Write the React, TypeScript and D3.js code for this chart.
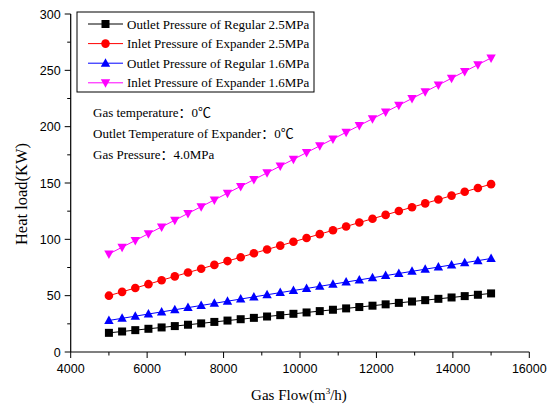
import React from 'react';
import * as d3 from 'd3';

// Gas flow (m3/h) at each measured point
const FLOW = [
  5000, 5345, 5690, 6034, 6379, 6724, 7069, 7414, 7759, 8103,
  8448, 8793, 9138, 9483, 9828, 10172, 10517, 10862, 11207, 11552,
  11897, 12241, 12586, 12931, 13276, 13621, 13966, 14310, 14655, 15000,
];

// Heat load (KW) per series
const OUTLET_REG_25 = [
  17, 18.2, 19.4, 20.6, 21.8, 23.0, 24.2, 25.4, 26.7, 27.9,
  29.1, 30.3, 31.5, 32.7, 33.9, 35.1, 36.3, 37.5, 38.7, 39.9,
  41.1, 42.3, 43.6, 44.8, 46.0, 47.2, 48.4, 49.6, 50.8, 52,
];
const INLET_EXP_25 = [
  50, 53.4, 56.8, 60.2, 63.7, 67.1, 70.5, 73.9, 77.3, 80.7,
  84.1, 87.6, 91.0, 94.4, 97.8, 101.2, 104.6, 108.0, 111.4, 114.9,
  118.3, 121.7, 125.1, 128.5, 131.9, 135.3, 138.8, 142.2, 145.6, 149,
];
const OUTLET_REG_16 = [
  28, 29.9, 31.8, 33.7, 35.6, 37.5, 39.4, 41.3, 43.2, 45.1,
  47.0, 48.9, 50.8, 52.7, 54.6, 56.4, 58.3, 60.2, 62.1, 64.0,
  65.9, 67.8, 69.7, 71.6, 73.5, 75.4, 77.3, 79.2, 81.1, 83,
];
const INLET_EXP_16 = [
  87, 93, 99, 105, 111, 117, 123, 129, 135, 141,
  147, 153, 159, 165, 171, 177, 183, 189, 195, 201,
  207, 213, 219, 225, 231, 237, 243, 249, 255, 261,
];

const SERIES_NAMES = [
  'Outlet Pressure of Regular 2.5MPa',
  'Inlet Pressure of Expander 2.5MPa',
  'Outlet Pressure of Regular 1.6MPa',
  'Inlet Pressure of Expander 1.6MPa',
];
const SERIES_VALUES = [OUTLET_REG_25, INLET_EXP_25, OUTLET_REG_16, INLET_EXP_16];
const SERIES_COLORS = ['#000000', '#ff0000', '#0000ff', '#ff00ff'];
const SERIES_SHAPES = ['square', 'circle', 'up', 'down'];

const X_TICKS = [4000, 6000, 8000, 10000, 12000, 14000, 16000];
const X_MINOR = [5000, 7000, 9000, 11000, 13000, 15000];
const Y_TICKS = [0, 50, 100, 150, 200, 250, 300];
const Y_MINOR = [25, 75, 125, 175, 225, 275];

const NOTES = [
  'Gas temperature：0℃',
  'Outlet Temperature of Expander：0℃',
  'Gas Pressure：4.0MPa',
];

const W = 553;
const H = 405;
const serif = '"Liberation Serif", "Times New Roman", "Noto Sans CJK SC", serif';
const sans = '"Liberation Sans", Arial, sans-serif';

const x = d3.scaleLinear().domain([4000, 16000]).range([70.7, 529.3]);
const y = d3.scaleLinear().domain([0, 300]).range([352, 14]);

function Marker({ shape, cx, cy, color }: { shape: string; cx: number; cy: number; color: string }) {
  if (shape === 'square') {
    return <rect x={cx - 4} y={cy - 4} width={8} height={8} fill={color} />;
  }
  if (shape === 'circle') {
    return <circle cx={cx} cy={cy} r={4.3} fill={color} />;
  }
  if (shape === 'up') {
    return <path d={`M${cx},${cy - 5}L${cx + 4.7},${cy + 3.5}L${cx - 4.7},${cy + 3.5}Z`} fill={color} />;
  }
  return <path d={`M${cx},${cy + 5}L${cx + 4.7},${cy - 3.5}L${cx - 4.7},${cy - 3.5}Z`} fill={color} />;
}

export default function App() {
  const line = d3.line<number>()
    .x((_, i) => x(FLOW[i]))
    .y(d => y(d));

  const x0 = x.range()[0];
  const yBase = y.range()[0];

  return (
    <div style={{ position: 'absolute', left: 0, top: 0, width: W, height: H, background: '#fff' }}>
      <svg width={W} height={H} style={{ display: 'block' }}>
        {/* series */}
        {SERIES_VALUES.map((vals, s) => (
          <g key={s}>
            <path d={line(vals) || ''} fill="none" stroke={SERIES_COLORS[s]} strokeWidth={1} />
            {vals.map((v, i) => (
              <Marker key={i} shape={SERIES_SHAPES[s]} cx={x(FLOW[i])} cy={y(v)} color={SERIES_COLORS[s]} />
            ))}
          </g>
        ))}

        {/* axes */}
        <line x1={x0} x2={x0} y1={y(300)} y2={yBase} stroke="#000" strokeWidth={1.2} />
        <line x1={x0} x2={x.range()[1]} y1={yBase} y2={yBase} stroke="#000" strokeWidth={1.2} />
        {Y_TICKS.map(t => (
          <g key={t}>
            <line x1={x0 - 6} x2={x0} y1={y(t)} y2={y(t)} stroke="#000" />
            <text x={x0 - 10} y={y(t) + 4.5} textAnchor="end" fontFamily={sans} fontSize={12.5}>{t}</text>
          </g>
        ))}
        {Y_MINOR.map(t => (
          <line key={t} x1={x0 - 3.5} x2={x0} y1={y(t)} y2={y(t)} stroke="#000" />
        ))}
        {X_TICKS.map(t => (
          <g key={t}>
            <line x1={x(t)} x2={x(t)} y1={yBase} y2={yBase + 6} stroke="#000" />
            <text x={x(t)} y={yBase + 21} textAnchor="middle" fontFamily={sans} fontSize={12.5}>{t}</text>
          </g>
        ))}
        {X_MINOR.map(t => (
          <line key={t} x1={x(t)} x2={x(t)} y1={yBase} y2={yBase + 3.5} stroke="#000" />
        ))}

        {/* axis titles */}
        <text x={299} y={400} textAnchor="middle" fontFamily={serif} fontSize={15}>
          Gas Flow(m<tspan fontSize={9} dy={-6}>3</tspan><tspan dy={6}>/h)</tspan>
        </text>
        <text transform="translate(27,194) rotate(-90)" textAnchor="middle" fontFamily={serif} fontSize={16.5}>
          Heat load(KW)
        </text>

        {/* legend */}
        <rect x={77} y={12} width={237} height={80} fill="#fff" stroke="#000" strokeWidth={1} />
        {SERIES_NAMES.map((name, i) => {
          const cy = 24 + i * 19.6;
          return (
            <g key={name}>
              <line x1={88} x2={123} y1={cy} y2={cy} stroke={SERIES_COLORS[i]} strokeWidth={1} />
              <Marker shape={SERIES_SHAPES[i]} cx={105.5} cy={cy} color={SERIES_COLORS[i]} />
              <text x={127} y={cy + 4.5} fontFamily={serif} fontSize={13}>{name}</text>
            </g>
          );
        })}

        {/* notes */}
        {NOTES.map((n, i) => (
          <text key={n} x={93} y={117 + i * 21} fontFamily={serif} fontSize={13}>{n}</text>
        ))}
      </svg>
    </div>
  );
}
